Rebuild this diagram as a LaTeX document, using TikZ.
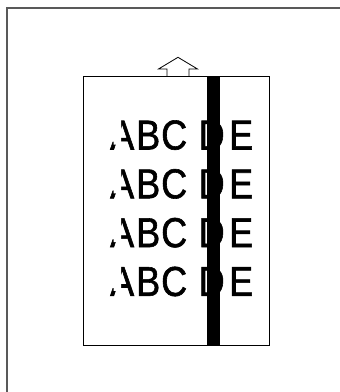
\documentclass[tikz,border=0pt]{standalone}
\usepackage{fontspec}
\usepackage{tikz}
\newfontfamily\chartfont[FakeStretch=0.86,FakeBold=1.4]{Liberation Sans}

\tikzset{
    letter/.style={inner sep=0pt, anchor=base west,
        font=\chartfont\fontsize{41.8pt}{48pt}\selectfont},
    fade/.style={fill=white, draw=none}
}

\begin{document}
\begin{tikzpicture}[x=1pt,y=-1pt]
    \useasboundingbox (0,0) rectangle (340,392);
        \draw[line width=1.2pt, black!65] (7,392) -- (7,8) -- (340,8);
        \draw[line width=0.9pt] (83,76) rectangle (269,345);
    % paper feed arrow
        \draw[line width=0.8pt] (167,76) -- (167,69) -- (158.5,69) -- (178,57.3)
                    -- (197.5,69) -- (189,69) -- (189,76);
    \foreach \r in {0,...,3} {
        \pgfmathsetmacro\yb{149.5+48.8*\r}
        \foreach \ch/\xx in {A/110,B/136,C/161,D/198.5,E/229}
            \node[letter] (l\r\ch) at (\xx,\yb) {\ch};
        \fill[fade] (103,\yb-8) -- (113.5,\yb-8) -- (113.5,\yb-5) -- (121,\yb-5)
                    -- (121,\yb-32) -- (103,\yb-32) -- cycle;
    }
    % black stripe
        \fill (207,76) rectangle (220,345);
\end{tikzpicture}
\end{document}
